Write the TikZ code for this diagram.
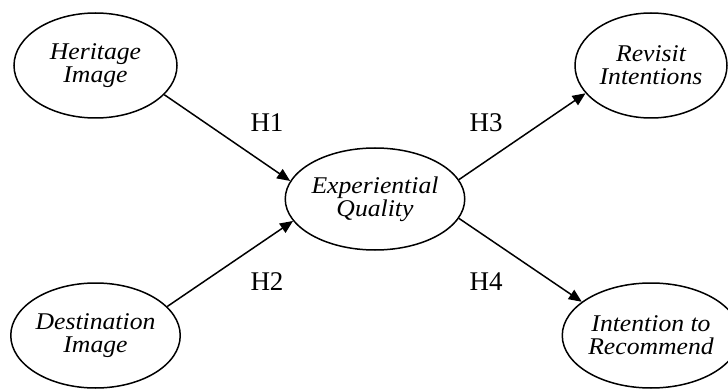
\documentclass[tikz,border=0pt]{standalone}
\usepackage{fontspec}
\setmainfont{Liberation Serif}
\newfontfamily\elfont[FakeStretch=1.07]{Liberation Serif}
\usetikzlibrary{shapes.geometric,arrows.meta}
\begin{document}
\begin{tikzpicture}[x=1pt,y=-1pt,
  construct/.style={ellipse,draw=black,line width=1.5pt,minimum width=163pt,minimum height=105pt,inner sep=0pt,align=center,
    font=\elfont\itshape\fontsize{24}{23}\selectfont},
  hlabel/.style={font=\fontsize{27}{27}\selectfont,inner sep=0pt},
  link/.style={line width=1.5pt,-{Triangle[length=13pt,width=11pt]}}]
\useasboundingbox (0,0) rectangle (728,390);
\node[construct] (her) at (95.5,65.5) {Heritage\\Image};
\node[construct] (dest) at (95.5,335.5) {Destination\\Image};
\node[construct,minimum width=160pt,minimum height=102pt] (eq) at (375,199) {Experiential\\Quality};
\node[construct,minimum width=152pt] (rev) at (651,65.5) {Revisit\\Intentions};
\node[construct,minimum width=152pt] (rec) at (651,335.5) {Intention to\\Recommend};
\node[hlabel] (h1) at (267,123) {H1};
\node[hlabel] (h2) at (267,282) {H2};
\node[hlabel] (h3) at (486,123) {H3};
\node[hlabel] (h4) at (486,282) {H4};
\draw[link] (her.-23) -- (eq.168);
\draw[link] (dest.22) -- (eq.195);
\draw[link] (eq.13) -- (rev.203);
\draw[link] (eq.-13) -- (rec.154);
\end{tikzpicture}
\end{document}
